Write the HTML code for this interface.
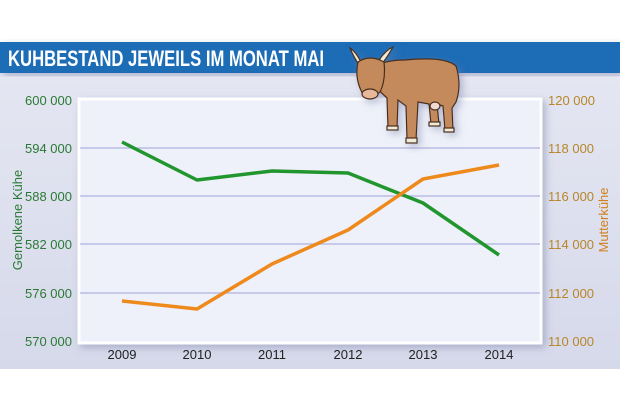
<!DOCTYPE html>
<html><head><meta charset="utf-8"><style>
body{margin:0;background:#fff;}
svg{display:block;font-family:"Liberation Sans Narrow","Liberation Sans",sans-serif;}
</style></head><body>
<svg width="620" height="420" viewBox="0 0 620 420" xmlns="http://www.w3.org/2000/svg">
<defs>
<linearGradient id="bg" x1="0" y1="0" x2="0" y2="1"><stop offset="0" stop-color="#e4e6f2"/><stop offset="1" stop-color="#d6d9ea"/></linearGradient>
<filter id="sh" x="-10%" y="-10%" width="120%" height="120%"><feDropShadow dx="3" dy="3" stdDeviation="4" flood-color="#7a80a8" flood-opacity="0.5"/></filter>
</defs>
<rect x="0" y="72" width="620" height="297" fill="url(#bg)"/>
<rect x="0" y="42" width="620" height="31" fill="#1f6cb6" filter="url(#sh)"/>
<text x="8" y="66" font-size="22" font-weight="bold" fill="#fff" textLength="316" lengthAdjust="spacingAndGlyphs">KUHBESTAND JEWEILS IM MONAT MAI</text>
<rect x="79" y="99" width="462" height="244" fill="#eef1f9" stroke="#fff" stroke-width="3" filter="url(#sh)"/>
<g stroke="#b9bde2" stroke-width="1.5">
<line x1="80" y1="148" x2="540" y2="148"/><line x1="80" y1="196" x2="540" y2="196"/>
<line x1="80" y1="244" x2="540" y2="244"/><line x1="80" y1="293" x2="540" y2="293"/>
</g>
<g font-size="13" fill="#2a7a35" text-anchor="end">
<text x="72" y="105">600 000</text><text x="72" y="153">594 000</text><text x="72" y="201">588 000</text>
<text x="72" y="249">582 000</text><text x="72" y="298">576 000</text><text x="72" y="346">570 000</text>
</g>
<g font-size="13" fill="#b8862a">
<text x="548" y="105">120 000</text><text x="548" y="153">118 000</text><text x="548" y="201">116 000</text>
<text x="548" y="249">114 000</text><text x="548" y="298">112 000</text><text x="548" y="346">110 000</text>
</g>
<g font-size="13" fill="#222" text-anchor="middle">
<text x="122" y="359">2009</text><text x="197" y="359">2010</text><text x="272" y="359">2011</text>
<text x="348" y="359">2012</text><text x="423" y="359">2013</text><text x="499" y="359">2014</text>
</g>
<text transform="translate(22,220) rotate(-90)" font-size="13" fill="#2a7a35" text-anchor="middle">Gemolkene Kühe</text>
<text transform="translate(608,220) rotate(-90)" font-size="13" fill="#d07f1a" text-anchor="middle">Mutterkühe</text>
<polyline points="122,142 197,180 272,171 348,173 423,203 499,255" fill="none" stroke="#22962e" stroke-width="3.5" stroke-linejoin="round"/>
<polyline points="122,301 197,309 272,264 348,230 423,179 499,165" fill="none" stroke="#ee8a1c" stroke-width="3.5" stroke-linejoin="round"/>
<!-- cow -->
<g stroke="#4a2f1a" stroke-width="1.2" filter="url(#sh)">
<path d="M372,70 Q380,60 405,60 Q445,56 456,66 Q462,85 456,102 L452,108 L453,130 L445,130 L443,106 L437,104 L439,124 L431,124 L429,104 L418,102 L416,140 L407,140 L406,106 L398,100 L397,128 L388,128 L387,98 Q378,90 374,84 Z" fill="#c48a5c"/>
<path d="M361,62 Q356,52 350,48 Q354,58 360,66 Z M379,60 Q386,50 393,47 Q388,56 382,64 Z" fill="#f0ead8"/>
<path d="M358,62 Q370,54 384,62 Q386,80 380,92 Q372,100 364,96 Q354,80 358,62 Z" fill="#c48a5c"/>
<ellipse cx="370" cy="94" rx="8" ry="5" fill="#e8b89a"/>
<ellipse cx="435" cy="106" rx="5" ry="4" fill="#f0d8d0"/>
<rect x="406" y="138" width="11" height="5" fill="#f0ead8"/>
<rect x="387" y="126" width="11" height="4" fill="#f0ead8"/>
<rect x="429" y="122" width="11" height="4" fill="#f0ead8"/>
<rect x="444" y="128" width="10" height="4" fill="#f0ead8"/>
</g>
</svg>
</body></html>
